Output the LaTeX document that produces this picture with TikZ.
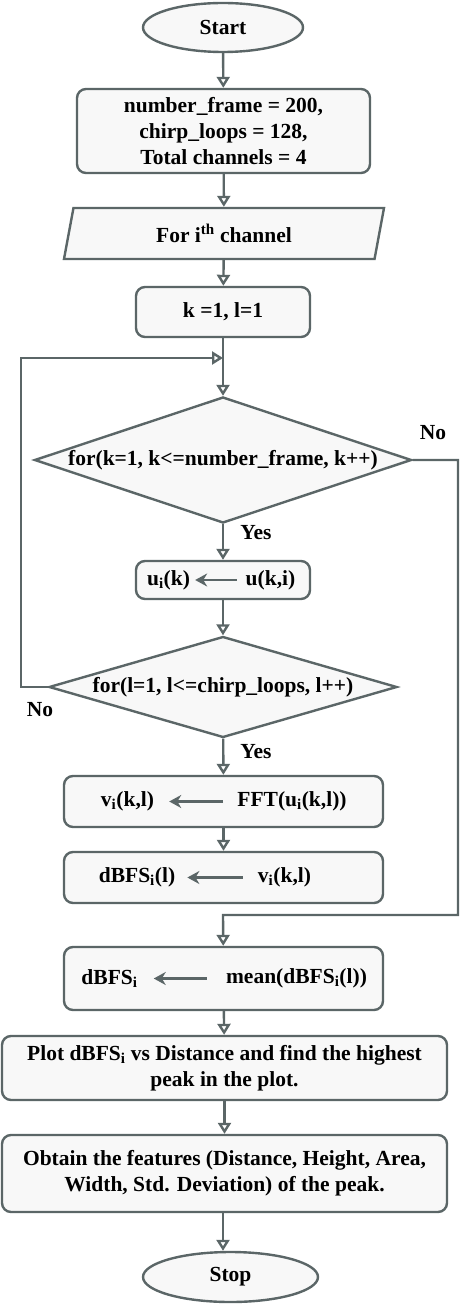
\documentclass[tikz,border=0pt]{standalone}
\usepackage{fontspec}
\setmainfont{Liberation Serif}
\usetikzlibrary{shapes.geometric,arrows.meta}
\definecolor{edgegray}{HTML}{5B6667}
\definecolor{boxfill}{HTML}{F8F8F8}

\begin{document}
\begin{tikzpicture}[x=1pt,y=-1pt,
    font=\fontsize{21.5}{26}\selectfont\bfseries,
    base/.style={draw=edgegray,line width=2.4pt,fill=boxfill,inner sep=0pt},
    term/.style={base,ellipse},
    proc/.style={base,rounded corners=9pt},
    io/.style={base,trapezium,trapezium left angle=62.5,trapezium right angle=117.5,trapezium stretches body=true},
    decision/.style={base,diamond},
    txt/.style={inner sep=0pt},
    line/.style={draw=edgegray,line width=2.4pt},
    flow/.style={line,-{Triangle[open,width=13pt,length=11pt]}},
    assign/.style={line,-{Stealth[width=13pt,length=12pt]}}]
    \useasboundingbox (0,0) rectangle (474,1305);

    \node[term,minimum width=160pt,minimum height=49pt] (start) at (223,27.5) {Start};
    \node[proc,minimum width=293pt,minimum height=84pt,align=center] (init) at (223.5,131)
        {number\_frame = 200,\\chirp\_loops = 128,\\Total channels = 4};
    \node[io,minimum width=320pt,minimum height=51pt] (chan) at (224,233.5) {For i\textsuperscript{th} channel};
    \node[proc,minimum width=174pt,minimum height=50pt] (kl) at (223,312) {k =1, l=1};
    \coordinate (join) at (223,358);
    \node[decision,aspect=2.992,minimum width=377pt,minimum height=126pt] (dk) at (223,460) {};
    \node[txt] (dktext) at (dk) {for(k=1, k<=number\_frame, k++)};
    \node[proc,minimum width=174pt,minimum height=38pt] (ubox) at (223,580) {};
    \node[txt] (uleft) at (168.5,580) {u\textsubscript{i}(k)};
    \node[txt] (uright) at (270.5,580) {u(k,i)};
    \node[decision,aspect=3.446,minimum width=348pt,minimum height=101pt] (dl) at (223,687) {};
    \node[txt] (dltext) at (dl) {for(l=1, l<=chirp\_loops, l++)};
    \node[proc,minimum width=319pt,minimum height=51pt] (vbox) at (223.5,801.5) {};
    \node[txt] (vleft) at (127.5,801.5) {v\textsubscript{i}(k,l)};
    \node[txt] (vright) at (292,801.5) {FFT(u\textsubscript{i}(k,l))};
    \node[proc,minimum width=319pt,minimum height=51pt] (dbox) at (223.5,877.5) {};
    \node[txt] (dleft) at (137,877.5) {dBFS\textsubscript{i}(l)};
    \node[txt] (dright) at (284.5,877.5) {v\textsubscript{i}(k,l)};
    \coordinate (merge) at (223,915);
    \node[proc,minimum width=319pt,minimum height=63pt] (mbox) at (223.5,978.5) {};
    \node[txt] (mleft) at (109.5,978.5) {dBFS\textsubscript{i}};
    \node[txt] (mright) at (296.5,978.5) {mean(dBFS\textsubscript{i}(l))};
    \node[proc,minimum width=445pt,minimum height=64pt,align=center] (plot) at (224.5,1068)
        {Plot dBFS\textsubscript{i} vs Distance and find the highest\\peak in the plot.};
    \node[proc,minimum width=445pt,minimum height=77pt,align=center] (feat) at (224.5,1173.5)
        {Obtain the features (Distance, Height, Area,\\Width, Std. Deviation) of the peak.};
    \node[term,minimum width=175pt,minimum height=50pt] (stop) at (230.5,1277) {Stop};

    \coordinate (lback) at (21,687);
    \coordinate (rback) at (458,460);

    \draw[flow] (start) -- (init);
    \draw[flow] (init) -- (chan);
    \draw[flow] (chan) -- (kl);
    \draw[line] (kl) -- (join);
    \draw[flow] (join) -- (dk);
    \draw[flow] (dk) -- (ubox);
    \draw[flow] (ubox) -- (dl);
    \draw[flow] (dl) -- (vbox);
    \draw[flow] (vbox) -- (dbox);
    \draw[flow] (dl.west) -- (lback) |- (join);
    \draw[flow] (dk.east) -- (rback) |- (merge) -- (mbox);
    \draw[flow] (mbox) -- (plot);
    \draw[flow] (plot) -- (feat);
    \draw[flow] (feat.south -| start) -- (start |- stop.north);

    \draw[assign,shorten <=9pt,shorten >=5pt] (uright) -- (uleft);
    \draw[assign,shorten <=14pt,shorten >=15pt] (vright) -- (vleft);
    \draw[assign,shorten <=15pt,shorten >=12pt] (dright) -- (dleft);
    \draw[assign,shorten <=19pt,shorten >=16pt] (mright) -- (mleft);

    \node (no1) at (433,433) {No};
    \node (no2) at (40,710) {No};
    \node (yes1) at (256,533) {Yes};
    \node (yes2) at (256,752) {Yes};
\end{tikzpicture}
\end{document}
